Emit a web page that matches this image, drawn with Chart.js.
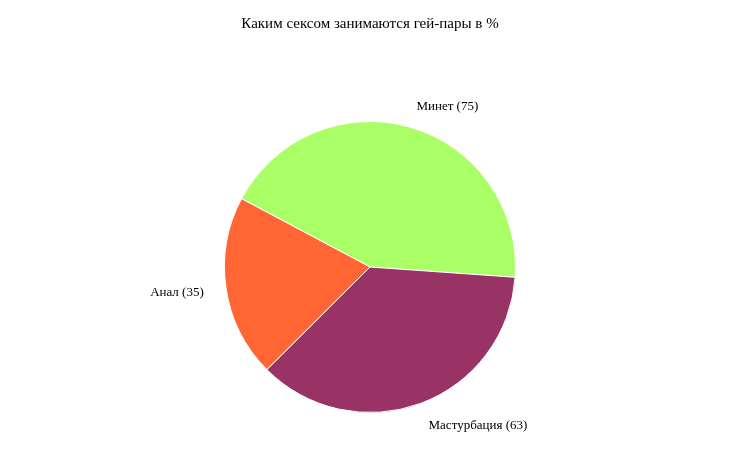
<!DOCTYPE html>
<html>
<head>
<meta charset="utf-8">
<script src="https://cdn.jsdelivr.net/npm/chart.js@4"></script>
<style>
html,body{margin:0;padding:0;background:#fff;}
#wrap{width:740px;height:450px;}
</style>
</head>
<body>
<div id="wrap"><canvas id="c" width="740" height="450"></canvas></div>
<script>
const titleText = "Каким сексом занимаются гей-пары в %";
const categories = ["Минет", "Мастурбация", "Анал"];
const values = [75, 63, 35];
const colors = ["#AAFF66", "#993366", "#FF6633"];

const outsideLabels = {
  id: 'outsideLabels',
  afterDatasetsDraw(chart) {
    const ctx = chart.ctx;
    const meta = chart.getDatasetMeta(0);
    ctx.save();
    ctx.font = '13px "Liberation Serif", "Times New Roman", serif';
    ctx.fillStyle = '#000';
    ctx.textBaseline = 'middle';
    meta.data.forEach((arc, i) => {
      const p = arc.getProps(['x','y','startAngle','endAngle','outerRadius'], true);
      const mid = (p.startAngle + p.endAngle) / 2;
      const r = p.outerRadius * 1.155;
      const x = p.x + Math.cos(mid) * r;
      const y = p.y + Math.sin(mid) * r + 1;
      ctx.textAlign = Math.cos(mid) >= 0 ? 'left' : 'right';
      ctx.fillText(categories[i] + ' (' + values[i] + ')', x, y);
    });
    ctx.restore();
  }
};

new Chart(document.getElementById('c'), {
  type: 'pie',
  data: {
    labels: categories,
    datasets: [{
      data: values,
      backgroundColor: colors,
      borderColor: '#ffffff',
      borderWidth: 1
    }]
  },
  options: {
    responsive: false,
    animation: false,
    devicePixelRatio: 1,
    rotation: 298,
    layout: { padding: { top: 0, bottom: 37, left: 0, right: 0 } },
    plugins: {
      legend: { display: false },
      tooltip: { enabled: false },
      title: {
        display: true,
        text: titleText,
        color: '#000',
        font: { family: '"Liberation Serif", "Times New Roman", serif', size: 15, weight: 'normal', lineHeight: 1.2 },
        padding: { top: 15, bottom: 88 }
      }
    }
  },
  plugins: [outsideLabels]
});
</script>
</body>
</html>
